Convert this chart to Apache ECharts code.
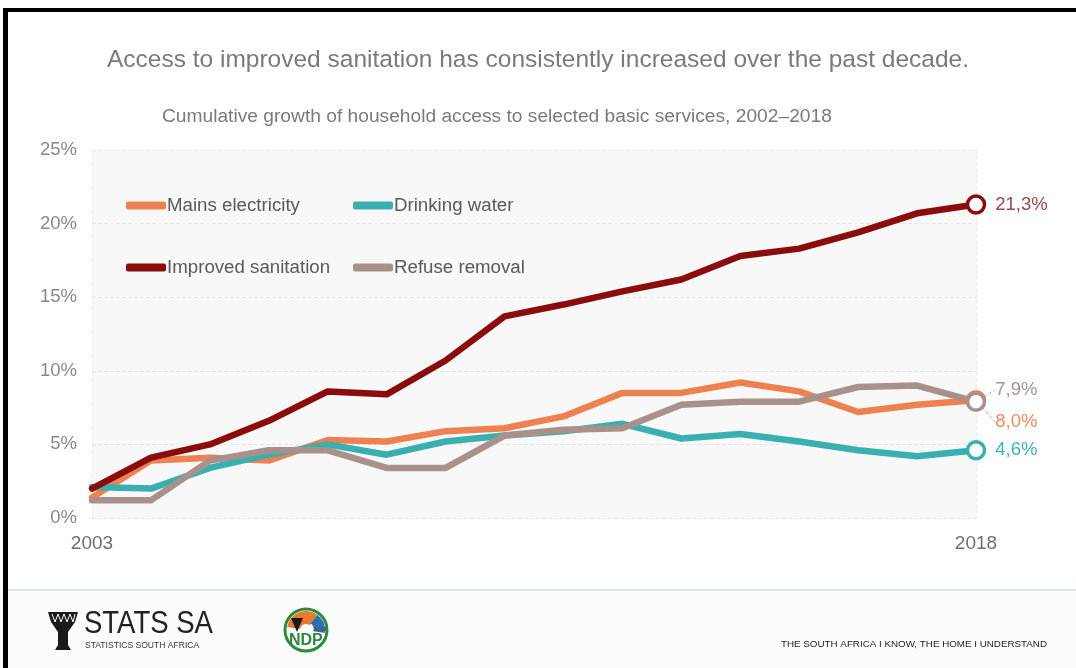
<!DOCTYPE html>
<html>
<head>
<meta charset="utf-8">
<script src="https://cdn.jsdelivr.net/npm/echarts@6/dist/echarts.min.js"></script>
<style>
html,body{margin:0;padding:0;background:#fff;}
#c{width:1076px;height:668px;}
</style>
</head>
<body>
<div id="c"></div>
<script>
const years = ['2003','2004','2005','2006','2007','2008','2009','2010','2011','2012','2013','2014','2015','2016','2017','2018'];
const electricity = [1.4,3.9,4.1,3.9,5.3,5.2,5.9,6.1,6.9,8.5,8.5,9.2,8.6,7.2,7.7,8.0];
const water       = [2.1,2.0,3.4,4.3,5.0,4.3,5.2,5.6,5.9,6.4,5.4,5.7,5.2,4.6,4.2,4.6];
const sanitation  = [2.0,4.1,5.0,6.6,8.6,8.4,10.7,13.7,14.5,15.4,16.2,17.8,18.3,19.4,20.7,21.3];
const refuse      = [1.2,1.2,3.9,4.6,4.6,3.4,3.4,5.6,6.0,6.1,7.7,7.9,7.9,8.9,9.0,7.9];
const yTicks = [0,5,10,15,20,25];

const COLORS = {
  'Mains electricity': '#ee8152',
  'Drinking water': '#3aafb0',
  'Refuse removal': '#a8918a',
  'Improved sanitation': '#8b0c0c'
};

const FONT = "'Liberation Sans', Arial, sans-serif";
const last = years.length - 1;
const fmt = v => v.toFixed(1).replace('.', ',') + '%';

function mkSeries(name, vals, labelColor, dy, withLine) {
  const color = COLORS[name];
  return {
    name: name,
    type: 'line',
    symbol: 'circle',
    showSymbol: true,
    showAllSymbol: true,
    symbolSize: (v, p) => p.dataIndex === last ? 17 : 0,
    lineStyle: { width: 6.5, color: color, cap: 'round', join: 'round' },
    itemStyle: { color: '#ffffff', borderColor: color, borderWidth: 3.5 },
    color: color,
    z: 3,
    silent: true,
    data: vals.map((v, i) => i === last ? {
      value: v,
      label: {
        show: true, position: 'right', distance: 9,
        formatter: () => fmt(v),
        color: labelColor, fontSize: 18.5, fontFamily: FONT
      }
    } : v),
    labelLayout: dy ? { dy: dy, dx: 0 } : undefined,
    labelLine: withLine ? { show: true, lineStyle: { color: '#b0b0b0', width: 1, type: 'dashed' } } : undefined
  };
}

const legendItem = n => ({ name: n, itemStyle: { color: COLORS[n], borderWidth: 0 } });
const legendText = { fontFamily: FONT, fontSize: 18.7, color: '#595959', padding: [0, 0, 0, -4] };

const chart = echarts.init(document.getElementById('c'), null, { renderer: 'canvas' });
chart.setOption({
  backgroundColor: '#ffffff',
  animation: false,
  title: [
    { text: 'Access to improved sanitation has consistently increased over the past decade.',
      left: 'center', top: 43,
      textStyle: { fontFamily: FONT, fontSize: 24.5, fontWeight: 'normal', color: '#7a7a7a' } },
    { text: 'Cumulative growth of household access to selected basic services, 2002–2018',
      left: 157, top: 102,
      textStyle: { fontFamily: FONT, fontSize: 19.2, fontWeight: 'normal', color: '#7a7a7a' } }
  ],
  legend: [
    { data: ['Mains electricity', 'Improved sanitation'].map(legendItem), orient: 'vertical', left: 121, top: 191,
      itemWidth: 40, itemHeight: 8, itemGap: 43, icon: 'roundRect', textStyle: legendText },
    { data: ['Drinking water', 'Refuse removal'].map(legendItem), orient: 'vertical', left: 348, top: 191,
      itemWidth: 40, itemHeight: 8, itemGap: 43, icon: 'roundRect', textStyle: legendText }
  ],
  grid: { left: 92, right: 100, top: 150, bottom: 150, show: true,
          backgroundColor: '#f8f8f8', borderWidth: 0 },
  xAxis: {
    type: 'category', data: years, boundaryGap: false,
    axisLine: { show: false }, axisTick: { show: false },
    axisLabel: { interval: (i) => i === 0 || i === last, margin: 16,
                 fontFamily: FONT, fontSize: 19, color: '#6e6e6e' },
    splitLine: { show: true, lineStyle: { color: '#ebebeb', type: 'dashed', width: 1 } }
  },
  yAxis: {
    type: 'value', min: 0, max: 25, interval: 5,
    axisLine: { show: false }, axisTick: { show: false },
    axisLabel: { formatter: v => yTicks.includes(v) ? v + '%' : '', margin: 15,
                 fontFamily: FONT, fontSize: 18.5, color: '#888888' },
    splitLine: { show: true, lineStyle: { color: '#e8e8e8', type: 'dashed', width: 1 } }
  },
  series: [
    mkSeries('Mains electricity', electricity, '#ec8a5e', 22, true),
    mkSeries('Drinking water', water, '#3fb1b2', 0, false),
    mkSeries('Refuse removal', refuse, '#a8918a', -12, true),
    mkSeries('Improved sanitation', sanitation, '#9a4848', 0, false)
  ],
  graphic: [
    { type: 'rect', shape: { x: 0, y: 590, width: 1076, height: 78 }, style: { fill: '#fcfcfc' }, z: -1 },
    { type: 'line', shape: { x1: 8, y1: 590, x2: 1076, y2: 590 }, style: { stroke: '#dde4e4', lineWidth: 2 } },
    { type: 'rect', shape: { x: 3, y: 8, width: 1073, height: 4 }, style: { fill: '#000' } },
    { type: 'rect', shape: { x: 3, y: 8, width: 5, height: 660 }, style: { fill: '#000' } },
    // STATS SA logo
    { type: 'polygon', shape: { points: [[48,612],[78,612],[75,622],[68,632],[68,645],[71,650],[55,650],[58,645],[58,632],[51,622]] },
      style: { fill: '#1a1a1a' } },
    { type: 'polyline', shape: { points: [[52,614],[55,622],[58,614],[61,622],[64,614],[67,622],[70,614],[73,622],[75,614]] },
      style: { stroke: '#ffffff', lineWidth: 1, fill: null } },
    { type: 'text', x: 84, y: 608, scaleX: 0.86, style: { text: 'STATS SA', font: "32px 'Liberation Sans', sans-serif", fill: '#222' } },
    { type: 'text', x: 85, y: 640, scaleX: 0.9, style: { text: 'STATISTICS SOUTH AFRICA', font: "9.5px 'Liberation Sans', sans-serif", fill: '#333' } },
    // NDP logo
    { type: 'circle', shape: { cx: 306, cy: 630, r: 21 }, style: { fill: '#ffffff', stroke: '#2d8a3e', lineWidth: 3 } },
    { type: 'sector', shape: { cx: 306, cy: 630, r: 19, r0: 6, startAngle: Math.PI * 1.05, endAngle: Math.PI * 1.7 }, style: { fill: '#e8792e' } },
    { type: 'sector', shape: { cx: 306, cy: 630, r: 19, r0: 8, startAngle: Math.PI * 1.7, endAngle: Math.PI * 2.05 }, style: { fill: '#2f6db5' } },
    { type: 'polygon', shape: { points: [[291,618],[303,618],[297,632]] }, style: { fill: '#1a1a1a' } },
    { type: 'text', left: 289, top: 633, style: { text: 'NDP', font: "bold 16px 'Liberation Sans', sans-serif", fill: '#2d8a3e' } },
    { type: 'text', left: 313, top: 626, style: { text: '2030', font: "bold 6px 'Liberation Sans', sans-serif", fill: '#555' } },
    { type: 'text', right: 29, top: 639, style: { text: 'THE SOUTH AFRICA I KNOW, THE HOME I UNDERSTAND', font: "9.8px 'Liberation Sans', sans-serif", fill: '#222' } }
  ]
});
</script>
</body>
</html>
